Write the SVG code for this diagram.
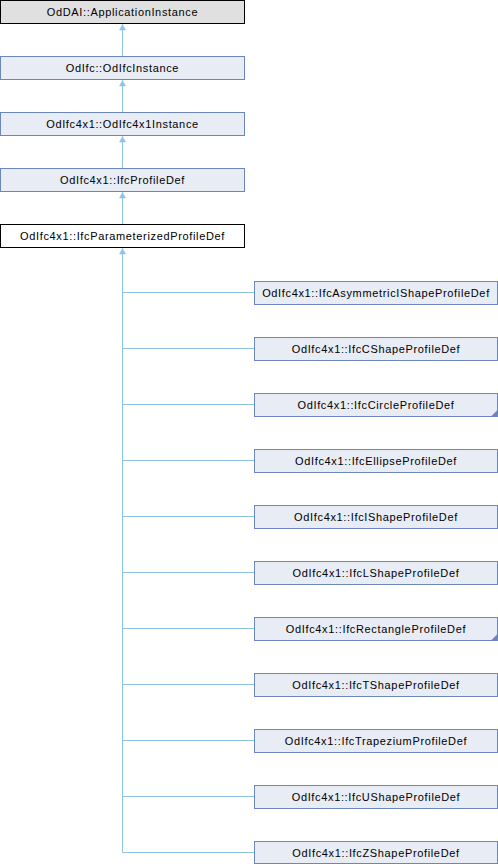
<svg xmlns="http://www.w3.org/2000/svg" width="498" height="864" viewBox="0 0 498 864">
<defs>
<style>
text{font-family:"Liberation Sans",Arial,sans-serif;font-size:11px;letter-spacing:0.65px;fill:#000;text-anchor:middle}
.b rect{fill:#e8ecf5;stroke:#6b86b8;stroke-width:1}
.g rect{fill:#e0e0e0;stroke:#000;stroke-width:1}
.w rect{fill:#fff;stroke:#000;stroke-width:1}
.e{stroke:#8ec3e6;stroke-width:1;fill:none}
.fold{fill:#6b86b8}
</style>
<marker id="ah" markerWidth="8" markerHeight="8" refX="0" refY="0" orient="auto" markerUnits="userSpaceOnUse" overflow="visible">
<polygon points="-5.5,-3 0,0 -5.5,3" fill="#8ec3e6" stroke="#8ec3e6" stroke-width="0.5"/>
</marker>
</defs>
<g id="edges">
<path class="e" d="M122.5,56V24.5" marker-end="url(#ah)"/>
<path class="e" d="M122.5,112V80.5" marker-end="url(#ah)"/>
<path class="e" d="M122.5,168V136.5" marker-end="url(#ah)"/>
<path class="e" d="M122.5,224V192.5" marker-end="url(#ah)"/>
<path class="e" d="M122.5,852.5V248.5" marker-end="url(#ah)"/>
<path class="e" d="M122.5,292.5H254M122.5,348.5H254M122.5,404.5H254M122.5,460.5H254M122.5,516.5H254M122.5,572.5H254M122.5,628.5H254M122.5,684.5H254M122.5,740.5H254M122.5,796.5H254M122.5,852.5H254"/>
</g>
<g id="n0" class="g"><rect x="0.5" y="0.5" width="244" height="23"/><text x="122.5" y="16">OdDAI::ApplicationInstance</text></g>
<g id="n1" class="b"><rect x="0.5" y="56.5" width="244" height="23"/><text x="122.5" y="72">OdIfc::OdIfcInstance</text></g>
<g id="n2" class="b"><rect x="0.5" y="112.5" width="244" height="23"/><text x="122.5" y="128">OdIfc4x1::OdIfc4x1Instance</text></g>
<g id="n3" class="b"><rect x="0.5" y="168.5" width="244" height="23"/><text x="122.5" y="184">OdIfc4x1::IfcProfileDef</text></g>
<g id="n4" class="w"><rect x="0.5" y="224.5" width="244" height="23"/><text x="122.5" y="240">OdIfc4x1::IfcParameterizedProfileDef</text></g>
<g id="n5" class="b"><rect x="254.5" y="281.5" width="243" height="23"/><text x="376" y="297">OdIfc4x1::IfcAsymmetricIShapeProfileDef</text></g>
<g id="n6" class="b"><rect x="254.5" y="337.5" width="243" height="23"/><text x="376" y="353">OdIfc4x1::IfcCShapeProfileDef</text></g>
<g id="n7" class="b"><rect x="254.5" y="393.5" width="243" height="23"/><text x="376" y="409">OdIfc4x1::IfcCircleProfileDef</text><polygon class="fold" points="497.5,410 497.5,416.5 491,416.5"/></g>
<g id="n8" class="b"><rect x="254.5" y="449.5" width="243" height="23"/><text x="376" y="465">OdIfc4x1::IfcEllipseProfileDef</text></g>
<g id="n9" class="b"><rect x="254.5" y="505.5" width="243" height="23"/><text x="376" y="521">OdIfc4x1::IfcIShapeProfileDef</text></g>
<g id="n10" class="b"><rect x="254.5" y="561.5" width="243" height="23"/><text x="376" y="577">OdIfc4x1::IfcLShapeProfileDef</text></g>
<g id="n11" class="b"><rect x="254.5" y="617.5" width="243" height="23"/><text x="376" y="633">OdIfc4x1::IfcRectangleProfileDef</text><polygon class="fold" points="497.5,634 497.5,640.5 491,640.5"/></g>
<g id="n12" class="b"><rect x="254.5" y="673.5" width="243" height="23"/><text x="376" y="689">OdIfc4x1::IfcTShapeProfileDef</text></g>
<g id="n13" class="b"><rect x="254.5" y="729.5" width="243" height="23"/><text x="376" y="745">OdIfc4x1::IfcTrapeziumProfileDef</text></g>
<g id="n14" class="b"><rect x="254.5" y="785.5" width="243" height="23"/><text x="376" y="801">OdIfc4x1::IfcUShapeProfileDef</text></g>
<g id="n15" class="b"><rect x="254.5" y="841.5" width="243" height="22"/><text x="376" y="857">OdIfc4x1::IfcZShapeProfileDef</text></g>
</svg>
